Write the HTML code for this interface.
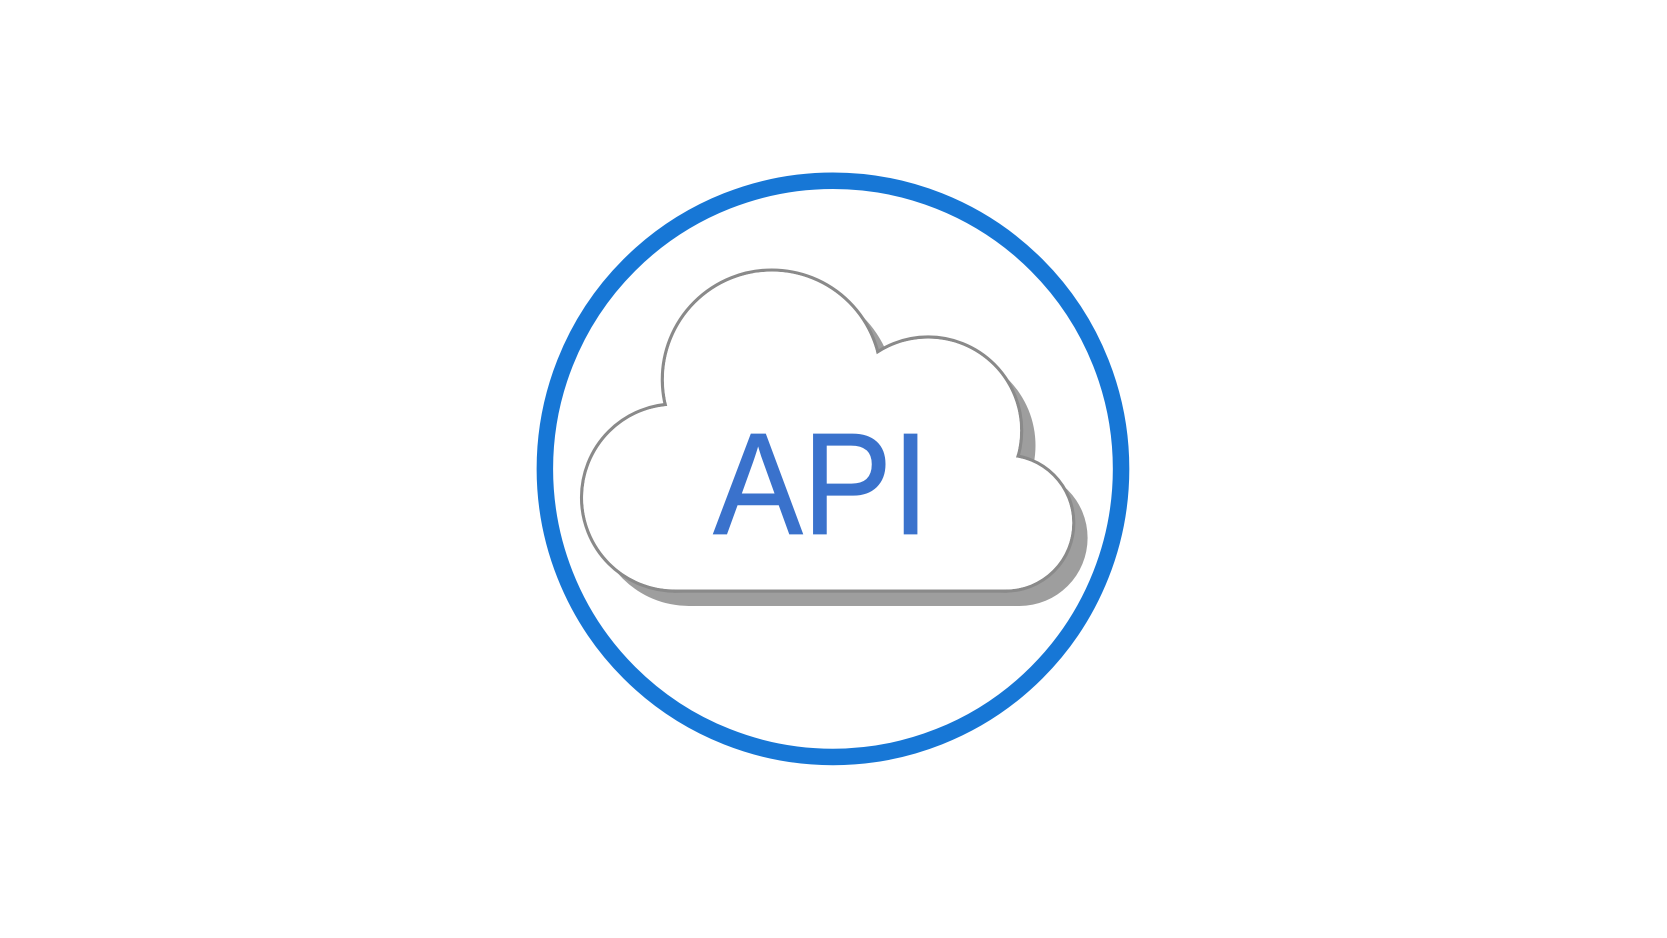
<!DOCTYPE html>
<html><head><meta charset="utf-8"><style>html,body{margin:0;padding:0;background:#fff;}svg{display:block}</style></head>
<body>
<svg width="1667" height="938" viewBox="0 0 1568 882.3" xmlns="http://www.w3.org/2000/svg">
<rect width="1568" height="882.3" fill="#fff"/>
<circle cx="783.5" cy="441" r="271" fill="none" stroke="#1777d6" stroke-width="15.5"/>
<g transform="translate(13,14)" fill="#9e9e9e">
<circle cx="726" cy="357" r="103"/>
<circle cx="635" cy="468" r="88"/>
<circle cx="873" cy="405" r="88"/>
<circle cx="946" cy="492" r="64"/>
<rect x="635" y="420" width="311" height="136"/>
</g>
<g fill="#fff" stroke="#8a8a8a" stroke-width="3">
<circle cx="726" cy="357" r="103"/>
<circle cx="635" cy="468" r="88"/>
<circle cx="873" cy="405" r="88"/>
<circle cx="946" cy="492" r="64"/>
<rect x="635" y="420" width="311" height="136"/>
</g>
<g fill="#fff">
<circle cx="726" cy="357" r="101.5"/>
<circle cx="635" cy="468" r="86.5"/>
<circle cx="873" cy="405" r="86.5"/>
<circle cx="946" cy="492" r="62.5"/>
<rect x="635" y="421.5" width="311" height="133"/>
</g>
<text x="671" y="502" font-family="Liberation Sans, sans-serif" font-size="136" fill="#3a72cc" stroke="#3a72cc" stroke-width="1.2" textLength="203" lengthAdjust="spacingAndGlyphs">API</text>
</svg>
</body></html>
